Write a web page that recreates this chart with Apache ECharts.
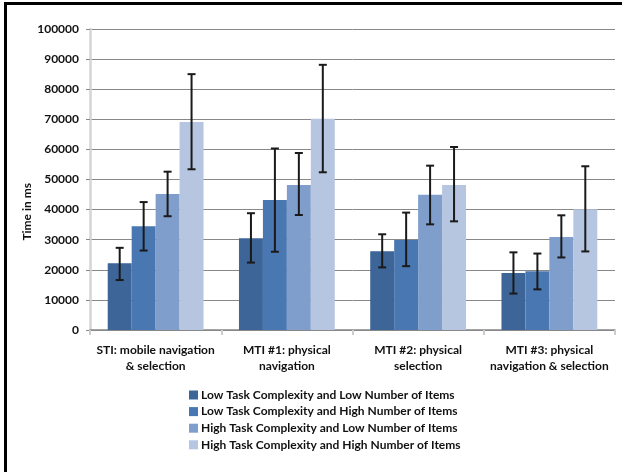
<!DOCTYPE html>
<html><head><meta charset="utf-8">
<script src="https://cdn.jsdelivr.net/npm/echarts@6/dist/echarts.min.js"></script>
<style>html,body{margin:0;padding:0;background:#fff}#c{width:622px;height:472px}</style>
</head><body><div id="c"></div>
<script>
const categories = ['STI: mobile navigation\n& selection', 'MTI #1: physical\nnavigation', 'MTI #2: physical\nselection', 'MTI #3: physical\nnavigation & selection'];
const seriesNames = ['Low Task Complexity and Low Number of Items', 'Low Task Complexity and High Number of Items', 'High Task Complexity and Low Number of Items', 'High Task Complexity and High Number of Items'];
const lowLow = [22200, 30500, 26200, 18900];
const lowHigh = [34500, 43200, 29900, 19500];
const highLow = [45200, 48200, 44900, 30900];
const highHigh = [69100, 70200, 48200, 40100];
const lowLowErr = [[16600, 27300], [22400, 38800], [20800, 31800], [12100, 25800]];
const lowHighErr = [[26400, 42500], [26000, 60300], [21200, 39000], [13500, 25400]];
const highLowErr = [[37800, 52600], [38200, 58800], [35100, 54600], [24100, 38100]];
const highHighErr = [[53400, 85000], [52400, 88100], [36100, 60800], [26100, 54400]];
const colors = ['#3d6598', '#4977b1', '#7f9ecb', '#b6c5e0'];

const values = [lowLow, lowHigh, highLow, highHigh];
const errs = [lowLowErr, lowHighErr, highLowErr, highHighErr];
const GAP = 0.27;
const font = 'Lato, "Open Sans", sans-serif';

const series = [];
values.forEach((v, i) => {
  series.push({
    name: seriesNames[i], type: 'bar', data: v, barGap: '0%', barCategoryGap: (GAP * 100) + '%',
    itemStyle: { color: colors[i] }, z: 2
  });
});
errs.forEach((e, i) => {
  series.push({
    type: 'custom', silent: true, z: 5,
    data: e.map((d, k) => [k, d[0], d[1]]),
    renderItem: function (params, api) {
      const k = api.value(0);
      const lo = api.coord([k, api.value(1)]);
      const hi = api.coord([k, api.value(2)]);
      const band = api.size([1, 0])[0];
      const groupW = band * (1 - GAP);
      const bw = groupW / 4;
      const x = lo[0] - groupW / 2 + bw * (i + 0.5);
      const cap = 4;
      const st = { stroke: '#1a1a1a', lineWidth: 2 };
      return { type: 'group', children: [
        { type: 'line', shape: { x1: x, y1: lo[1], x2: x, y2: hi[1] }, style: st },
        { type: 'line', shape: { x1: x - cap, y1: lo[1], x2: x + cap, y2: lo[1] }, style: st },
        { type: 'line', shape: { x1: x - cap, y1: hi[1], x2: x + cap, y2: hi[1] }, style: st }
      ]};
    }
  });
});

const chart = echarts.init(document.getElementById('c'), null, { renderer: 'canvas' });
chart.setOption({
  animation: false,
  grid: { left: 90, right: 7, top: 29, bottom: 142 },
  legend: {
    data: seriesNames, orient: 'vertical', left: 184, top: 383,
    itemWidth: 9, itemHeight: 9, itemGap: 2.6, icon: 'rect',
    textStyle: { fontFamily: font, fontSize: 12, color: '#111', fontWeight: 'bold', lineHeight: 14, padding: [0, 0, 0, -2] }
  },
  xAxis: {
    type: 'category', data: categories,
    axisLine: { lineStyle: { color: '#888', width: 1.5 } },
    axisTick: { show: true, length: 5, lineStyle: { color: '#ccc', width: 2 } },
    axisLabel: { interval: 0, fontFamily: font, fontSize: 12, color: '#111', fontWeight: 'bold', lineHeight: 16, margin: 12 }
  },
  yAxis: {
    type: 'value', min: 0, max: 100000, interval: 10000,
    axisLine: { show: true, lineStyle: { color: '#d4d4d4', width: 2.5 } },
    axisTick: { show: true, length: 4, lineStyle: { color: '#888' } },
    splitLine: { lineStyle: { color: '#888', width: 1 } },
    axisLabel: { fontFamily: font, fontSize: 12, color: '#111', fontWeight: 'bold', margin: 11, formatter: v => String(v) }
  },
  graphic: [
    { type: 'text', left: 21, top: 183, rotation: Math.PI / 2, style: { text: 'Time in ms', font: 'bold 12px ' + font, fill: '#111' } },
    { type: 'rect', shape: { x: 4, y: 2, width: 618, height: 3 }, style: { fill: '#000' } },
    { type: 'rect', shape: { x: 4, y: 2, width: 3, height: 470 }, style: { fill: '#000' } }
  ],
  series: series
});
</script></body></html>
